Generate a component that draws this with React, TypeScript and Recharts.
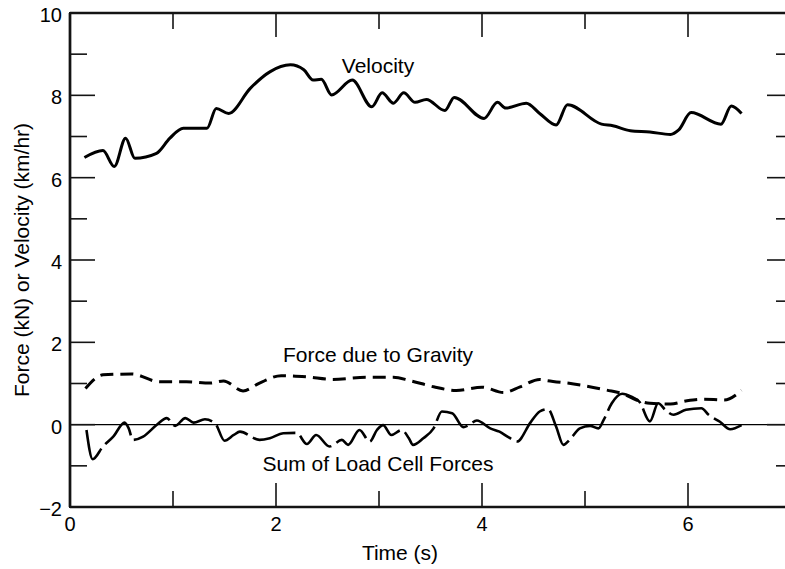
import { LineChart, Line, XAxis, YAxis, ReferenceLine } from "recharts";

// values: [time (s), value]
const velocity: [number, number][] = [
  [0.14, 6.49], [0.32, 6.66], [0.43, 6.27], [0.54, 6.96], [0.63, 6.47], [0.84, 6.59],
  [0.97, 6.96], [1.1, 7.2], [1.33, 7.2], [1.42, 7.68], [1.54, 7.56], [1.75, 8.17],
  [1.94, 8.57], [2.14, 8.74], [2.27, 8.62], [2.36, 8.37], [2.44, 8.39], [2.54, 8.01],
  [2.74, 8.37], [2.93, 7.72], [3.03, 8.06], [3.14, 7.81], [3.24, 8.06], [3.35, 7.83],
  [3.46, 7.9], [3.64, 7.63], [3.73, 7.95], [4.02, 7.44], [4.15, 7.83], [4.23, 7.69],
  [4.43, 7.81], [4.56, 7.56], [4.72, 7.28], [4.83, 7.77], [5.16, 7.3], [5.27, 7.26],
  [5.44, 7.14], [5.63, 7.11], [5.83, 7.05], [5.91, 7.16], [6.03, 7.58], [6.32, 7.3],
  [6.42, 7.74], [6.52, 7.56],
];

const gravity: [number, number][] = [
  [0.15, 0.88], [0.32, 1.21], [0.6, 1.23], [0.87, 1.04], [1.13, 1.04], [1.36, 1.01],
  [1.49, 1.06], [1.68, 0.82], [1.84, 1.01], [2.05, 1.19], [2.3, 1.16], [2.55, 1.1],
  [2.88, 1.15], [3.14, 1.15], [3.3, 1.07], [3.53, 0.92], [3.75, 0.83], [4.0, 0.91],
  [4.21, 0.78], [4.37, 0.92], [4.56, 1.1], [4.63, 1.07], [4.89, 0.99], [5.21, 0.84],
  [5.37, 0.75], [5.5, 0.6], [5.63, 0.52], [5.83, 0.5], [5.99, 0.58], [6.15, 0.62],
  [6.35, 0.6], [6.52, 0.83],
];

const loadCell: [number, number][] = [
  [0.16, -0.13], [0.22, -0.84], [0.32, -0.53], [0.42, -0.29], [0.53, 0.05], [0.57, -0.09],
  [0.61, -0.37], [0.71, -0.29], [0.84, -0.01], [0.94, 0.16], [1.02, -0.03], [1.12, 0.16],
  [1.2, 0.05], [1.31, 0.13], [1.41, 0.03], [1.5, -0.39], [1.59, -0.25], [1.65, -0.17],
  [1.84, -0.37], [1.94, -0.33], [2.07, -0.21], [2.2, -0.2], [2.3, -0.47], [2.39, -0.25],
  [2.52, -0.53], [2.64, -0.37], [2.7, -0.49], [2.81, -0.13], [2.91, -0.41], [2.98, -0.13],
  [3.04, -0.01], [3.12, -0.25], [3.22, -0.13], [3.29, -0.33], [3.33, -0.49], [3.43, -0.33],
  [3.53, -0.09], [3.61, 0.32], [3.71, 0.28], [3.82, -0.06], [3.87, -0.01], [3.95, 0.1],
  [4.08, -0.09], [4.17, -0.17], [4.26, -0.31], [4.34, -0.41], [4.47, 0.05], [4.56, 0.32],
  [4.64, 0.38], [4.72, -0.05], [4.79, -0.49], [4.85, -0.37], [4.95, -0.09], [5.05, -0.03],
  [5.13, -0.09], [5.18, 0.11], [5.26, 0.52], [5.36, 0.75], [5.45, 0.68], [5.53, 0.55],
  [5.63, 0.08], [5.71, 0.52], [5.78, 0.36], [5.86, 0.24], [5.98, 0.36], [6.13, 0.4],
  [6.2, 0.24], [6.31, 0.07], [6.41, -0.11], [6.52, -0.01],
];

const xTicks = [0, 1, 2, 3, 4, 5, 6, 7];
const yTicks = [-2, -1, 0, 1, 2, 3, 4, 5, 6, 7, 8, 9, 10];

// curve labels, placed in pixels over the chart
const annotations = [
  { left: 378, top: 66, text: "Velocity" },
  { left: 378, top: 355, text: "Force due to Gravity" },
  { left: 378, top: 464, text: "Sum of Load Cell Forces" },
];

const FONT = "'Liberation Sans', Arial, Helvetica, sans-serif";
const INK = "#141414";

// plot box: left 70, top 13, 721 x 494
const PLOT_X = 70;
const PLOT_Y = 13;
const PLOT_W = 721;
const PLOT_H = 494;

const toRows = (pts: [number, number][]) => pts.map(([t, v]) => ({ t, v }));

const fmtTick = (n: number) => (n < 0 ? `\u2212${Math.abs(n)}` : `${n}`);

// bottom tick also draws the matching tick on the top edge
function BottomTick({ x, y, payload }: any) {
  const major = payload.value % 2 === 0;
  const len = major ? 24 : 16;
  const top = Number(y) - PLOT_H;
  return (
    <g>
      <line x1={x} y1={y} x2={x} y2={Number(y) - len} stroke={INK} strokeWidth={1.6} />
      <line x1={x} y1={top} x2={x} y2={top + len} stroke={INK} strokeWidth={1.6} />
      {major && (
        <text x={x} y={Number(y) + 17} textAnchor="middle" dominantBaseline="central" fontSize={20} fontFamily={FONT} fill="#000">
          {fmtTick(payload.value)}
        </text>
      )}
    </g>
  );
}

// left tick also draws the matching tick on the right edge
function LeftTick({ x, y, payload }: any) {
  const major = payload.value % 2 === 0;
  const right = Number(x) + PLOT_W;
  return (
    <g>
      <line x1={x} y1={y} x2={Number(x) + (major ? 25 : 17)} y2={y} stroke={INK} strokeWidth={1.6} />
      <line x1={right} y1={y} x2={right - (major ? 24 : 15)} y2={y} stroke={INK} strokeWidth={1.6} />
      {major && (
        <text x={Number(x) - 8} y={Number(y) + 2} textAnchor="end" dominantBaseline="central" fontSize={20} fontFamily={FONT} fill="#000">
          {fmtTick(payload.value)}
        </text>
      )}
    </g>
  );
}

const textStyle: React.CSSProperties = {
  position: "absolute",
  fontFamily: FONT,
  fontSize: 21,
  color: "#000",
  whiteSpace: "nowrap",
  lineHeight: "24px",
  pointerEvents: "none",
};

export default function App() {
  return (
    <div style={{ position: "absolute", left: 0, top: 0, width: 785, height: 569, overflow: "hidden", background: "#fff" }}>
      <LineChart width={800} height={569} margin={{ top: 13, right: 9, bottom: 0, left: 0 }}>
        <XAxis
          xAxisId="bottom"
          type="number"
          dataKey="t"
          domain={[0, 7]}
          ticks={xTicks}
          height={62}
          tickSize={0}
          tickMargin={0}
          tickLine={false}
          axisLine={{ stroke: INK, strokeWidth: 2.4 }}
          tick={(p: any) => <BottomTick {...p} />}
        />
        <YAxis
          yAxisId="left"
          type="number"
          domain={[-2, 10]}
          ticks={yTicks}
          width={70}
          tickSize={0}
          tickMargin={0}
          tickLine={false}
          axisLine={{ stroke: INK, strokeWidth: 2.4 }}
          tick={(p: any) => <LeftTick {...p} />}
        />

        {/* frame edges and the zero line */}
        <ReferenceLine xAxisId="bottom" yAxisId="left" x={0} stroke={INK} strokeWidth={2.4} ifOverflow="visible" />
        <ReferenceLine xAxisId="bottom" yAxisId="left" y={10} stroke={INK} strokeWidth={2.4} ifOverflow="visible" />
        <ReferenceLine xAxisId="bottom" yAxisId="left" y={0} stroke="#000" strokeWidth={1.2} />

        <Line
          xAxisId="bottom"
          yAxisId="left"
          data={toRows(velocity)}
          dataKey="v"
          type="monotone"
          stroke="#000"
          strokeWidth={3}
          dot={false}
          isAnimationActive={false}
        />
        <Line
          xAxisId="bottom"
          yAxisId="left"
          data={toRows(gravity)}
          dataKey="v"
          type="monotone"
          stroke="#000"
          strokeWidth={3}
          strokeDasharray="13 7"
          dot={false}
          isAnimationActive={false}
        />
        <Line
          xAxisId="bottom"
          yAxisId="left"
          data={toRows(loadCell)}
          dataKey="v"
          type="monotone"
          stroke="#000"
          strokeWidth={2.6}
          strokeDasharray="44 6"
          dot={false}
          isAnimationActive={false}
        />
      </LineChart>

      {/* left and top edges of the frame, drawn again over the svg */}
      <div
        style={{
          position: "absolute",
          left: PLOT_X - 1,
          top: PLOT_Y - 1,
          width: PLOT_W,
          height: PLOT_H,
          borderLeft: `2px solid ${INK}`,
          borderTop: `2px solid ${INK}`,
          pointerEvents: "none",
        }}
      />

      {annotations.map((a) => (
        <div key={a.text} style={{ ...textStyle, left: a.left, top: a.top, transform: "translate(-50%, -50%)" }}>
          {a.text}
        </div>
      ))}

      {/* axis titles */}
      <div style={{ ...textStyle, left: 400, top: 553, transform: "translate(-50%, -50%)" }}>Time (s)</div>
      <div style={{ ...textStyle, left: 22, top: 260, transform: "translate(-50%, -50%) rotate(-90deg)" }}>
        Force (kN) or Velocity (km/hr)
      </div>
    </div>
  );
}
